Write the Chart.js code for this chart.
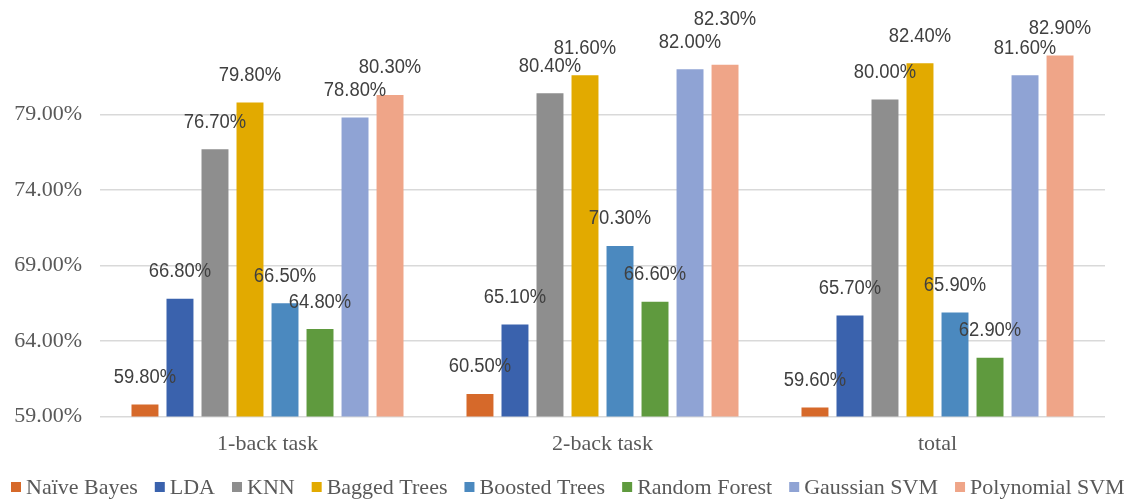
<!DOCTYPE html>
<html>
<head>
<meta charset="utf-8">
<title>Classifier accuracy by task</title>
<script src="https://cdn.jsdelivr.net/npm/chart.js@4/dist/chart.umd.min.js"></script>
<style>
  html, body { margin: 0; padding: 0; background: #ffffff; }
  #wrap { width: 1134px; height: 501px; }
</style>
</head>
<body>
<div id="wrap"><canvas id="chart" width="1134" height="501"></canvas></div>
<script>
// Task groups along the x axis
const tasks = ['1-back task', '2-back task', 'total'];

// Classifier names, in legend order
const classifiers = ['Naïve Bayes', 'LDA', 'KNN', 'Bagged Trees', 'Boosted Trees',
                     'Random Forest', 'Gaussian SVM', 'Polynomial SVM'];

// Accuracy (%) per classifier, one value per task group
const naiveBayes    = [59.8, 60.5, 59.6];
const lda           = [66.8, 65.1, 65.7];
const knn           = [76.7, 80.4, 80.0];
const baggedTrees   = [79.8, 81.6, 82.4];
const boostedTrees  = [66.5, 70.3, 65.9];
const randomForest  = [64.8, 66.6, 62.9];
const gaussianSvm   = [78.8, 82.0, 81.6];
const polynomialSvm = [80.3, 82.3, 82.9];

// Value-axis range and tick labels
const axisMin = 59;
const axisMax = 84;
const tickValues = [59, 64, 69, 74, 79];

const seriesValues = [naiveBayes, lda, knn, baggedTrees, boostedTrees,
                      randomForest, gaussianSvm, polynomialSvm];

const seriesColors = ['#D6692A', '#3A62AD', '#8E8E8E', '#E2AA00',
                      '#4B89BF', '#5F9A3E', '#8FA3D4', '#EFA588'];

// Extra upward shift (px) for labels that sit higher than the rest
const labelExtraLift = { '7:1': 18 };

const serifFont = '"Liberation Serif", "Times New Roman", serif';
const pct = v => v.toFixed(2) + '%';

// Draws the value above each bar
const valueLabels = {
  id: 'valueLabels',
  afterDatasetsDraw(chart) {
    const ctx = chart.ctx;
    ctx.save();
    ctx.font = '20px "Liberation Sans", Arial, sans-serif';
    ctx.fillStyle = '#404040';
    ctx.textAlign = 'center';
    ctx.textBaseline = 'middle';
    chart.data.datasets.forEach((ds, di) => {
      const meta = chart.getDatasetMeta(di);
      meta.data.forEach((bar, i) => {
        const lift = 27 + (labelExtraLift[di + ':' + i] || 0);
        ctx.save();
        ctx.translate(bar.x, bar.y - lift);
        ctx.scale(0.92, 1);
        ctx.fillText(pct(ds.data[i]), 0, 0);
        ctx.restore();
      });
    });
    ctx.restore();
  }
};

// Single-row legend along the bottom edge: small square, then the series name
const bottomLegend = {
  id: 'bottomLegend',
  afterDraw(chart) {
    const ctx = chart.ctx;
    const box = 10, boxGap = 5, itemGap = 17, startX = 11, midY = 487;
    ctx.save();
    ctx.font = '22px ' + serifFont;
    ctx.textBaseline = 'middle';
    ctx.textAlign = 'left';
    let x = startX;
    chart.data.datasets.forEach(ds => {
      ctx.fillStyle = ds.backgroundColor;
      ctx.fillRect(x, midY - box / 2, box, box);
      x += box + boxGap;
      ctx.fillStyle = '#595959';
      ctx.fillText(ds.label, x, midY + 1);
      x += ctx.measureText(ds.label).width + itemGap;
    });
    ctx.restore();
  }
};

new Chart(document.getElementById('chart'), {
  type: 'bar',
  data: {
    labels: tasks,
    datasets: classifiers.map((name, k) => ({
      label: name,
      data: seriesValues[k],
      backgroundColor: seriesColors[k],
      borderWidth: 0,
      categoryPercentage: 0.836,
      barPercentage: 0.77
    }))
  },
  options: {
    responsive: false,
    animation: false,
    devicePixelRatio: 1,
    layout: { padding: { top: 39, right: 29, left: 0, bottom: 30 } },
    scales: {
      x: {
        grid: { display: false, drawTicks: false },
        border: { display: false },
        ticks: {
          color: '#595959',
          padding: 14,
          font: { family: serifFont, size: 22 }
        }
      },
      y: {
        min: axisMin,
        max: axisMax,
        afterBuildTicks(scale) {
          scale.ticks = tickValues.map(v => ({ value: v }));
        },
        afterFit(scale) {
          scale.width = 100;
        },
        grid: { color: '#D9D9D9', lineWidth: 1.5, drawTicks: false },
        border: { display: false },
        ticks: {
          color: '#595959',
          padding: 18,
          font: { family: serifFont, size: 22 },
          callback: v => pct(v)
        }
      }
    },
    plugins: {
      legend: { display: false },
      tooltip: { enabled: false }
    }
  },
  plugins: [valueLabels, bottomLegend]
});
</script>
</body>
</html>
